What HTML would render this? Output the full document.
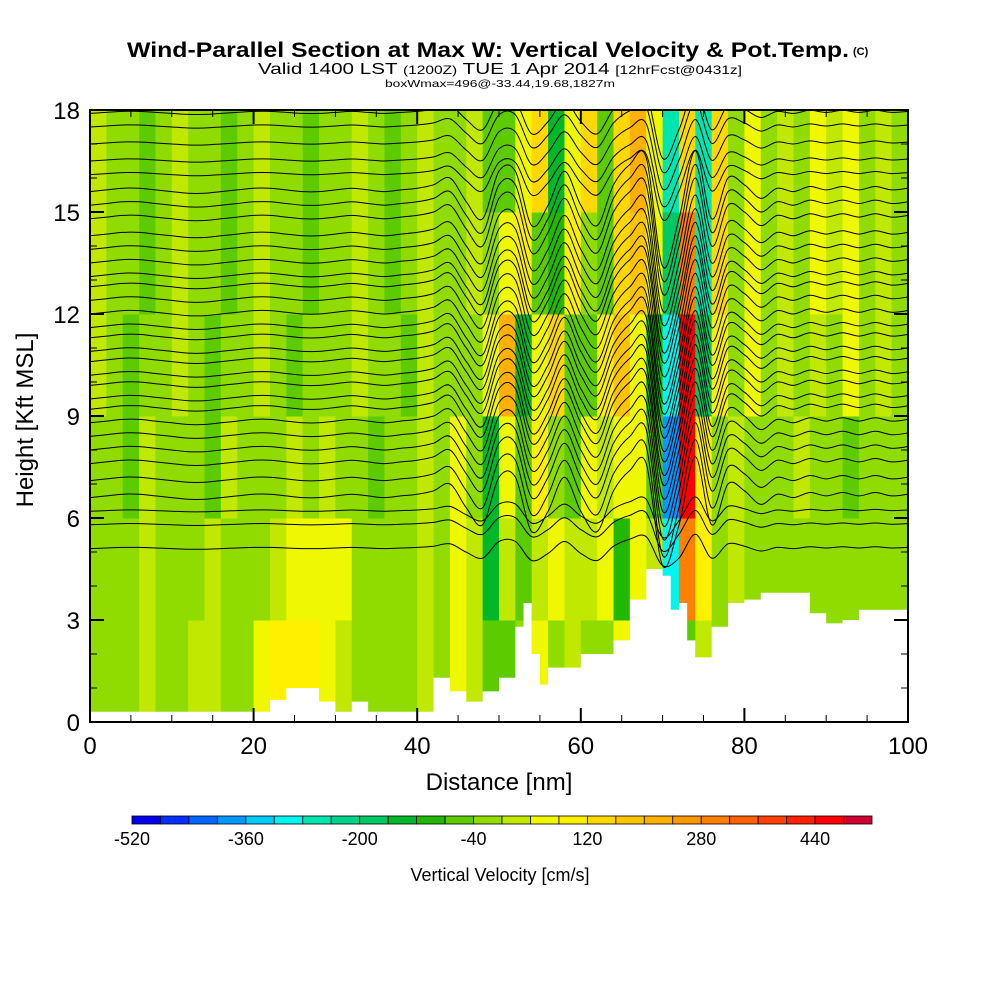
<!DOCTYPE html>
<html><head><meta charset="utf-8"><style>
html,body{margin:0;padding:0;background:#fff;}
svg{display:block;font-family:"Liberation Sans",sans-serif;}
</style></head><body>
<svg id="chart" width="1000" height="1000" viewBox="0 0 1000 1000" xmlns="http://www.w3.org/2000/svg">
<defs><clipPath id="plotclip"><rect x="90" y="110" width="818" height="612"/></clipPath></defs>
<text x="127" y="57" font-size="21" font-weight="bold" textLength="722" lengthAdjust="spacingAndGlyphs">Wind-Parallel Section at Max W: Vertical Velocity &amp; Pot.Temp.</text>
<text x="853" y="55" font-size="11" font-weight="bold">(C)</text>
<text x="258" y="74" font-size="16" textLength="484" lengthAdjust="spacingAndGlyphs">Valid 1400 LST <tspan font-size="12">(1200Z)</tspan> TUE 1 Apr 2014 <tspan font-size="12">[12hrFcst@0431z]</tspan></text>
<text x="385" y="87" font-size="10.5" textLength="230" lengthAdjust="spacingAndGlyphs">boxWmax=496@-33.44,19.68,1827m</text>
<g id="field"></g>
<g id="contours" clip-path="url(#plotclip)"></g>
<g id="terrain"></g>
<g id="axes"></g>
<g id="cbar"></g>
</svg>
<script>
// ---- data ----
const wColors = ["#0000f0","#0030ff","#0066ff","#0099ff","#00ccff","#00f5f0","#00e6b0","#00d48a","#00c864","#00b82a","#22b800","#5ccc00","#90dc00","#c0e800","#f0f800","#fff000","#ffd800","#ffc400","#ffb000","#ff9800","#ff8000","#ff6000","#ff4000","#ff2000","#ff0000","#d00030"];
const wMin = -520, wStep = 40;
const cbarLabels = [-520,-360,-200,-40,120,280,440];
const xTicks = [0,20,40,60,80,100];
const yTicks = [0,3,6,9,12,15,18];
const rowBottoms = [0,3,6,9,12,15];
// vertical velocity rows (cm/s), columns every 2 nm from 0 to 98
const wRow0 = [-20,-20,-20,10,-20,-20,10,10,-20,-20,60,80,100,80,60,10,-20,-20,-20,-20,10,-20,40,10,-80,-60,-40,60,-20,20,-20,-20,40,60,60,60,-60,20,-20,-20,-20,-20,-40,-40,-20,-20,-20,-20,-20,-20];
const wRow1 = [-20,-20,-20,10,-20,-20,-20,10,-20,-20,-20,10,60,60,60,40,-20,-20,-20,-20,10,-20,60,30,-160,20,-60,20,60,20,10,60,-100,60,0,-300,300,80,-40,20,-20,-40,-40,-20,-40,-20,-40,-20,-20,-20];
const wRow2 = [-20,-20,-50,10,-20,-20,-20,-50,10,-20,-20,-20,10,-20,10,-20,-20,-50,-20,-20,10,-20,60,-40,-160,60,-80,80,-40,-60,40,10,60,40,-80,-380,440,80,-40,20,-20,-20,-40,10,-20,-20,-50,-20,-20,-20];
const wRow3 = [10,-20,-50,-20,-20,10,-20,-50,-20,-20,10,-20,-50,-20,-20,-20,10,-20,-20,-50,10,-20,-20,-20,60,200,-150,60,120,-80,-60,80,160,60,-100,-300,440,-200,80,-40,40,-20,10,-40,20,-20,40,-20,10,-20];
const wRow4 = [10,-20,-20,-50,-20,10,-20,-20,-50,-20,10,-20,-20,-50,-20,-20,10,-20,-50,-20,10,-20,-20,10,-40,40,100,-80,-120,80,-40,-60,120,180,60,-200,280,-250,120,-40,60,-20,20,-40,60,10,40,-20,20,-20];
const wRow5 = [10,-20,-20,-50,-20,10,-20,-20,-50,-20,10,-20,-20,-50,-20,-20,10,-20,-50,-20,10,-20,-20,10,-50,-60,60,140,-150,60,120,-60,140,220,60,-250,150,-250,150,-20,60,-20,20,-40,60,10,40,-20,20,-20];
const wRows = [wRow0,wRow1,wRow2,wRow3,wRow4,wRow5];
// terrain height (kft)
const terrainX = [0,2,4,6,8,10,12,14,16,18,20,22,24,26,28,30,32,34,36,38,40,42,44,46,48,50,52,53,54,55,56,58,60,62,64,66,68,70,71,72,73,74,76,78,80,82,84,86,88,90,92,94,96,98,100];
const terrainH = [0.3,0.3,0.3,0.3,0.3,0.3,0.3,0.3,0.3,0.3,0.3,0.65,1.0,1.0,0.6,0.3,0.6,0.3,0.3,0.3,0.3,1.3,0.9,0.6,0.9,1.3,2.8,3.5,2.0,1.1,1.6,1.6,2.0,2.0,2.4,3.6,4.5,4.3,3.3,3.5,2.4,1.9,2.8,3.5,3.6,3.8,3.8,3.8,3.2,2.9,3.0,3.3,3.3,3.3,3.3];
// potential temperature contour base heights (kft) at left edge
const thetaBase = [17.9,17.5,17.0,16.5,16.1,15.6,15.2,14.8,14.3,13.9,13.5,13.1,12.8,12.4,12.0,11.6,11.3,10.9,10.6,10.2,9.9,9.5,9.2,8.8,8.4,8.0,7.6,7.1,6.6,6.2,5.8,5.1];
// displacement of isentropes (kft) every 2 nm 0..100
const thetaDisp = [0,0.05,0.1,0.1,0.05,0,-0.05,-0.05,0,0.05,0.1,0.1,0.05,0,0,0.05,0.1,0.05,0,0.05,0.1,0.2,0.4,-0.3,-0.8,0.6,0.6,-1.0,-0.4,0.6,-0.4,-1.0,0.2,0.8,1.0,-2.2,-0.8,1.2,-0.8,0.4,0.2,-0.2,0.1,0,0.15,0.05,0.15,0.05,0.15,0.05,0.1];

// ---- axes functions ----
const X0=90,X1=908,Y0=722,Y1=110;
const sx = d => X0 + d/100*(X1-X0);
const sy = h => Y0 - h/18*(Y0-Y1);
const NS="http://www.w3.org/2000/svg";
function mk(tag,attrs,parent){const e=document.createElementNS(NS,tag);for(const k in attrs)e.setAttribute(k,attrs[k]);parent.appendChild(e);return e;}
const colorFor = v => wColors[Math.max(0,Math.min(wColors.length-1,Math.floor((v-wMin)/wStep)))];

// field
const field=document.getElementById('field');
mk('rect',{x:X0,y:Y1,width:X1-X0,height:Y0-Y1,fill:"#90dc00"},field);
wRows.forEach((row,ri)=>{
  row.forEach((v,ci)=>{
    const r=mk('rect',{x:sx(ci*2),y:sy(rowBottoms[ri]+3),width:sx(2)-sx(0)+0.5,height:sy(0)-sy(3)+0.5,fill:colorFor(v)},field);
    
    
  });
});

// contours (smooth curves)
const cg=document.getElementById('contours');
function terrAt(x){for(let i=0;i<terrainX.length-1;i++){if(x<=terrainX[i+1])return terrainH[i];}return terrainH[terrainH.length-1];}
function smoothPath(p){let d="M"+p[0][0].toFixed(1)+","+p[0][1].toFixed(1);for(let i=0;i<p.length-1;i++){const a=p[Math.max(0,i-1)],b=p[i],c=p[i+1],e=p[Math.min(p.length-1,i+2)];const c1x=b[0]+(c[0]-a[0])/6,c1y=b[1]+(c[1]-a[1])/6,c2x=c[0]-(e[0]-b[0])/6,c2y=c[1]-(e[1]-b[1])/6;d+=` C${c1x.toFixed(1)},${c1y.toFixed(1)} ${c2x.toFixed(1)},${c2y.toFixed(1)} ${c[0].toFixed(1)},${c[1].toFixed(1)}`;}return d;}
thetaBase.forEach(b=>{
  const amp = b>16?0.6:(b<6.5?0.35:1);
  let pts=[];
  thetaDisp.forEach((d,i)=>{const x=i*2;let h=b+d*amp;const t=terrAt(x);if(h<t+0.1)h=t+0.1;pts.push([sx(x),sy(h)]);});
  const p=mk('path',{d:smoothPath(pts),fill:"none",stroke:"#000","stroke-width":1},cg);
  
  
});

// terrain
const tg=document.getElementById('terrain');
let tp="M"+sx(0)+","+sy(0);
terrainX.forEach((x,i)=>{const nx=i<terrainX.length-1?terrainX[i+1]:100;tp+=" L"+sx(x)+","+sy(terrainH[i])+" L"+sx(nx)+","+sy(terrainH[i]);});
tp+=" L"+sx(100)+","+sy(0)+" Z";
const tpath=mk('path',{d:tp,fill:"#fff"},tg);



// axes
const ag=document.getElementById('axes');
mk('rect',{x:X0,y:Y1,width:X1-X0,height:Y0-Y1,fill:"none",stroke:"#000","stroke-width":2},ag);
for(let d=0;d<=100;d+=5){const maj=d%20===0;mk('line',{x1:sx(d),x2:sx(d),y1:Y0,y2:Y0-(maj?14:7),stroke:"#000","stroke-width":maj?2:1},ag);mk('line',{x1:sx(d),x2:sx(d),y1:Y1,y2:Y1+(maj?14:7),stroke:"#000","stroke-width":maj?2:1},ag);}
for(let h=0;h<=18;h+=1){const maj=h%3===0;mk('line',{x1:X0,x2:X0+(maj?14:7),y1:sy(h),y2:sy(h),stroke:"#000","stroke-width":maj?2:1},ag);mk('line',{x1:X1,x2:X1-(maj?14:7),y1:sy(h),y2:sy(h),stroke:"#000","stroke-width":maj?2:1},ag);}
xTicks.forEach(d=>{const t=mk('text',{x:sx(d),y:754,"font-size":24,"text-anchor":"middle"},ag);t.textContent=d;});
yTicks.forEach(h=>{const t=mk('text',{x:80,y:sy(h)+9,"font-size":24,"text-anchor":"end"},ag);t.textContent=h;});
const xt=mk('text',{x:499,y:790,"font-size":24,"text-anchor":"middle"},ag);xt.textContent="Distance [nm]";


const yt=mk('text',{x:0,y:0,"font-size":24,"text-anchor":"middle",transform:"translate(33,420) rotate(-90)"},ag);yt.textContent="Height [Kft MSL]";



// colorbar
const cb=document.getElementById('cbar');
const CB0=132,CB1=872;const bw=(CB1-CB0)/wColors.length;
wColors.forEach((c,i)=>{const r=mk('rect',{x:CB0+i*bw,y:816,width:bw,height:8,fill:c,stroke:"#000","stroke-width":0.8},cb);});
cbarLabels.forEach(v=>{const t=mk('text',{x:CB0+(v-wMin)/wStep*bw,y:845,"font-size":18,"text-anchor":"middle"},cb);t.textContent=v;});
const ct=mk('text',{x:500,y:881,"font-size":18,"text-anchor":"middle"},cb);ct.textContent="Vertical Velocity [cm/s]";


</script>
</body></html>
